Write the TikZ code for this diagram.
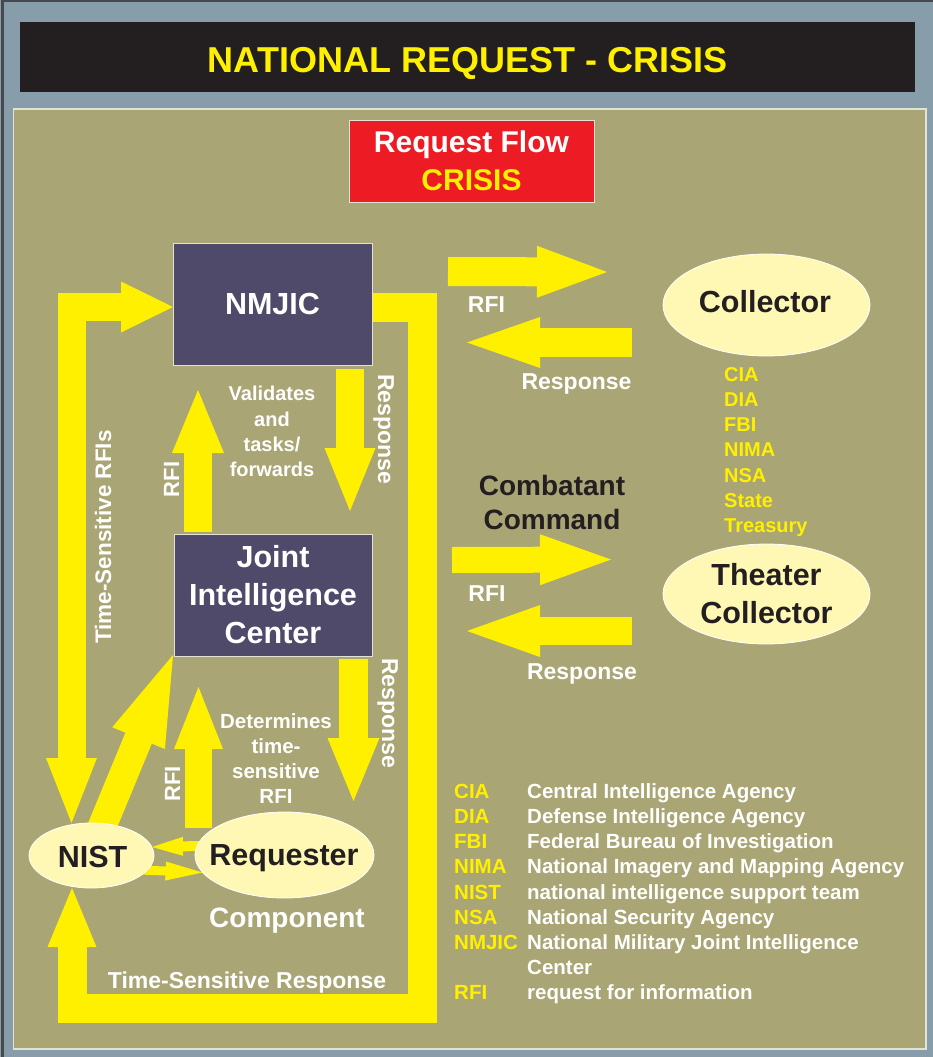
\documentclass[tikz,border=0pt]{standalone}
\usepackage{fontspec}
\setmainfont{Liberation Sans}
\usetikzlibrary{calc,shapes.geometric}

\definecolor{frameblue}{RGB}{135,158,170}
\definecolor{edgedark}{RGB}{70,74,78}
\definecolor{panelolive}{RGB}{169,165,116}
\definecolor{flowyellow}{RGB}{255,240,0}
\definecolor{boxpurple}{RGB}{80,74,106}
\definecolor{ovalfill}{RGB}{255,248,180}
\definecolor{alertred}{RGB}{237,28,36}
\definecolor{inkdark}{RGB}{35,31,32}
\definecolor{rimlight}{RGB}{226,226,214}

\pgfdeclarelayer{panel}
\pgfdeclarelayer{flows}
\pgfsetlayers{panel,flows,main}

% font size with leading
\newcommand\fsz[2]{\fontsize{#1}{#2}\selectfont}

% broad arrow: start, tip, shaft width, half head width, head length
\newcommand\blockarrow[5]{%
  \coordinate (ba-base) at ($(#2)!#5!(#1)$);
  \coordinate (ba-join) at ($(ba-base)!1pt!(#2)$);
  \draw[shaft, line width=#3] (#1) -- (ba-join);
  \fill[flowyellow] (#2) -- ($(ba-base)!#4!90:(#2)$) -- ($(ba-base)!#4!-90:(#2)$) -- cycle;
}
% head only: a point behind the tip, tip, half head width, head length
\newcommand\blockhead[4]{%
  \coordinate (bh-base) at ($(#2)!#4!(#1)$);
  \fill[flowyellow] (#2) -- ($(bh-base)!#3!90:(#2)$) -- ($(bh-base)!#3!-90:(#2)$) -- cycle;
}

\begin{document}
\begin{tikzpicture}[x=1pt, y=-1pt,
  shaft/.style={draw=flowyellow, line join=miter, line cap=butt},
  unitbox/.style={rectangle, draw=rimlight, line width=1pt, fill=boxpurple, text=white,
    inner sep=0pt, align=center, font=\bfseries\fsz{30.5}{38}},
  oval/.style={ellipse, draw=white, line width=0.8pt, fill=ovalfill, inner sep=0pt},
  ovaltext/.style={text=inkdark, inner sep=0pt, align=center, font=\bfseries\fsz{30.5}{37.7}},
  wlabel/.style={text=white, inner sep=0pt, font=\bfseries\fsz{#1}{#1}},
  ylabel/.style={text=flowyellow, inner sep=0pt, font=\bfseries\fsz{#1}{#1}},
]
\useasboundingbox (0,0) rectangle (933,1057);

% backdrop and panel
\begin{pgfonlayer}{panel}
  \fill[frameblue] (0,0) rectangle (933,1057);
  \draw[edgedark, line width=2.5pt] (2.5,1057) -- (2.5,1.2) -- (933,1.2);
  \filldraw[fill=panelolive, draw=rimlight, line width=1.3pt] (13.5,109) rectangle (926,1049);
\end{pgfonlayer}

% banner
\node[fill=inkdark, minimum width=895pt, minimum height=70pt, inner sep=0pt] (banner) at (467.5,57) {};
\node[ylabel=36, anchor=base] (title) at (467.5,73) {NATIONAL REQUEST - CRISIS};

\node[rectangle, fill=alertred, draw=rimlight, line width=1pt, minimum width=245pt, minimum height=82pt,
  inner sep=0pt, align=center, text=white, font=\bfseries\fsz{30}{38.5}] (flow) at (471.5,161)
  {Request Flow\\\textcolor{flowyellow}{CRISIS}};

% organisations
\node[unitbox, minimum width=199pt, minimum height=122pt, text height=21.8pt, text depth=0pt] (nmjic) at (272.5,304) {NMJIC};
\node[unitbox, minimum width=198pt, minimum height=122pt] (jic) at (273,595) {Joint\\Intelligence\\Center};

\node[oval, minimum width=125pt, minimum height=65pt] (nist) at (91.5,855.5) {};
\node[ovaltext, anchor=base] (nist-name) at (92.5,867.7) {NIST};
\node[oval, minimum width=179pt, minimum height=86pt] (req) at (284.5,855) {};
\node[ovaltext, anchor=base] (req-name) at (284,865.7) {Requester};
\node[oval, minimum width=207pt, minimum height=102pt] (coll) at (766.5,305) {};
\node[ovaltext, anchor=base] (coll-name) at (765,312.5) {Collector};
\node[oval, minimum width=207pt, minimum height=100pt] (tcoll) at (766.5,594) {};
\node[ovaltext, anchor=north] (tcoll-name) at (766.5,563) {Theater\\Collector};

% request and response flows
\begin{pgfonlayer}{flows}
  % time-sensitive RFIs: NIST up the left side and into NMJIC
  \coordinate (rfis-low) at (71.5,823);
  \coordinate (rfis-high) at (173,307);
  \draw[shaft, line width=28pt] (71.5,759) -- (71.5,307) -- (122,307);
  \blockhead{71.5,700}{rfis-low}{25.5pt}{65pt}
  \blockhead{100,307}{rfis-high}{25.5pt}{52pt}

  % time-sensitive response: NMJIC round the outside back to NIST
  \coordinate (tsr-tip) at (72,888);
  \draw[shaft, line width=29pt] (371,307) -- (422.5,307) -- (422.5,1008.5) -- (72,1008.5) -- (72,946);
  \blockhead{72,1000}{tsr-tip}{24.5pt}{59pt}

  % NMJIC <-> Joint Intelligence Center
  \blockarrow{198,532}{198,390}{28pt}{26pt}{63pt}
  \blockarrow{350,369}{350,511}{28pt}{25.5pt}{63pt}
  % Joint Intelligence Center <-> Requester
  \blockarrow{198.5,828}{198.5,687}{27pt}{24.5pt}{62pt}
  \blockarrow{353.5,659}{353.5,801}{29pt}{26pt}{63pt}
  % NIST -> Joint Intelligence Center
  \blockarrow{99.8,832}{173,655}{28.6pt}{28.5pt}{90pt}
  % NIST <-> Requester
  \blockarrow{200,846}{152,847}{10pt}{9.5pt}{31pt}
  \blockarrow{140,870}{202.5,872.5}{9pt}{9.5pt}{37pt}
  % to and from the collectors
  \blockarrow{448,271.5}{607,272}{29pt}{26pt}{70pt}
  \blockarrow{632,342.5}{467,342.5}{29pt}{25.5pt}{73pt}
  \blockarrow{452,560}{611,559.5}{26pt}{25.5pt}{71pt}
  \blockarrow{632,631}{467,631}{28pt}{26pt}{73pt}
\end{pgfonlayer}

% flow labels
\node[wlabel=22.5, rotate=90, anchor=base] (lbl-tsrfi) at (111,537) {Time-Sensitive RFIs};
\node[wlabel=22, rotate=90, anchor=base] (lbl-rfi-up) at (179,479.5) {RFI};
\node[wlabel=23, rotate=-90, anchor=base] (lbl-resp-up) at (378,429) {Response};
\node[wlabel=22, rotate=90, anchor=base] (lbl-rfi-low) at (180,783.7) {RFI};
\node[wlabel=23, rotate=-90, anchor=base] (lbl-resp-low) at (382,713) {Response};
\node[wlabel=20, font=\bfseries\fsz{20}{25.3}, align=center, anchor=north] (lbl-validate) at (272,386.3)
  {Validates\\and\\tasks/\\forwards};
\node[wlabel=20.5, font=\bfseries\fsz{20.5}{25}, align=center, anchor=north] (lbl-determine) at (276,713.6)
  {Determines\\time-\\sensitive\\RFI};
\node[wlabel=28, anchor=base] (lbl-component) at (287,927.3) {Component};
\node[wlabel=23, anchor=base] (lbl-tsresp) at (247,988.3) {Time-Sensitive Response};

\node[wlabel=23, anchor=base] (lbl-rfi-coll) at (486.5,312.3) {RFI};
\node[wlabel=23, anchor=base] (lbl-resp-coll) at (576.5,389.3) {Response};
\node[wlabel=23, anchor=base] (lbl-rfi-tcoll) at (487,601.7) {RFI};
\node[wlabel=23, anchor=base] (lbl-resp-tcoll) at (582,679.3) {Response};

\node[text=inkdark, inner sep=0pt, font=\bfseries\fsz{28}{34.3}, align=center, anchor=north] (combat) at (552,474.8)
  {Combatant\\Command};

% national collectors
\foreach \k/\ag in {0/CIA,1/DIA,2/FBI,3/NIMA,4/NSA,5/State,6/Treasury}
  \node[ylabel=20, anchor=base west] (agency-\k) at (724,{381+25.3*\k}) {\ag};

% abbreviations
\foreach \k/\ab/\df in {0/CIA/Central Intelligence Agency,
                        1/DIA/Defense Intelligence Agency,
                        2/FBI/Federal Bureau of Investigation,
                        3/NIMA/National Imagery and Mapping Agency,
                        4/NIST/national intelligence support team,
                        5/NSA/National Security Agency,
                        6/NMJIC/National Military Joint Intelligence,
                        8/RFI/request for information} {
  \node[ylabel=20.5, anchor=base west] (abbr-\k) at (454,{798.3+25.2*\k}) {\ab};
  \node[wlabel=20.5, anchor=base west] (term-\k) at (527,{798.3+25.2*\k}) {\df};
}
\node[wlabel=20.5, anchor=base west] (term-7) at (527,{798.3+25.2*7}) {Center};

\end{tikzpicture}
\end{document}
